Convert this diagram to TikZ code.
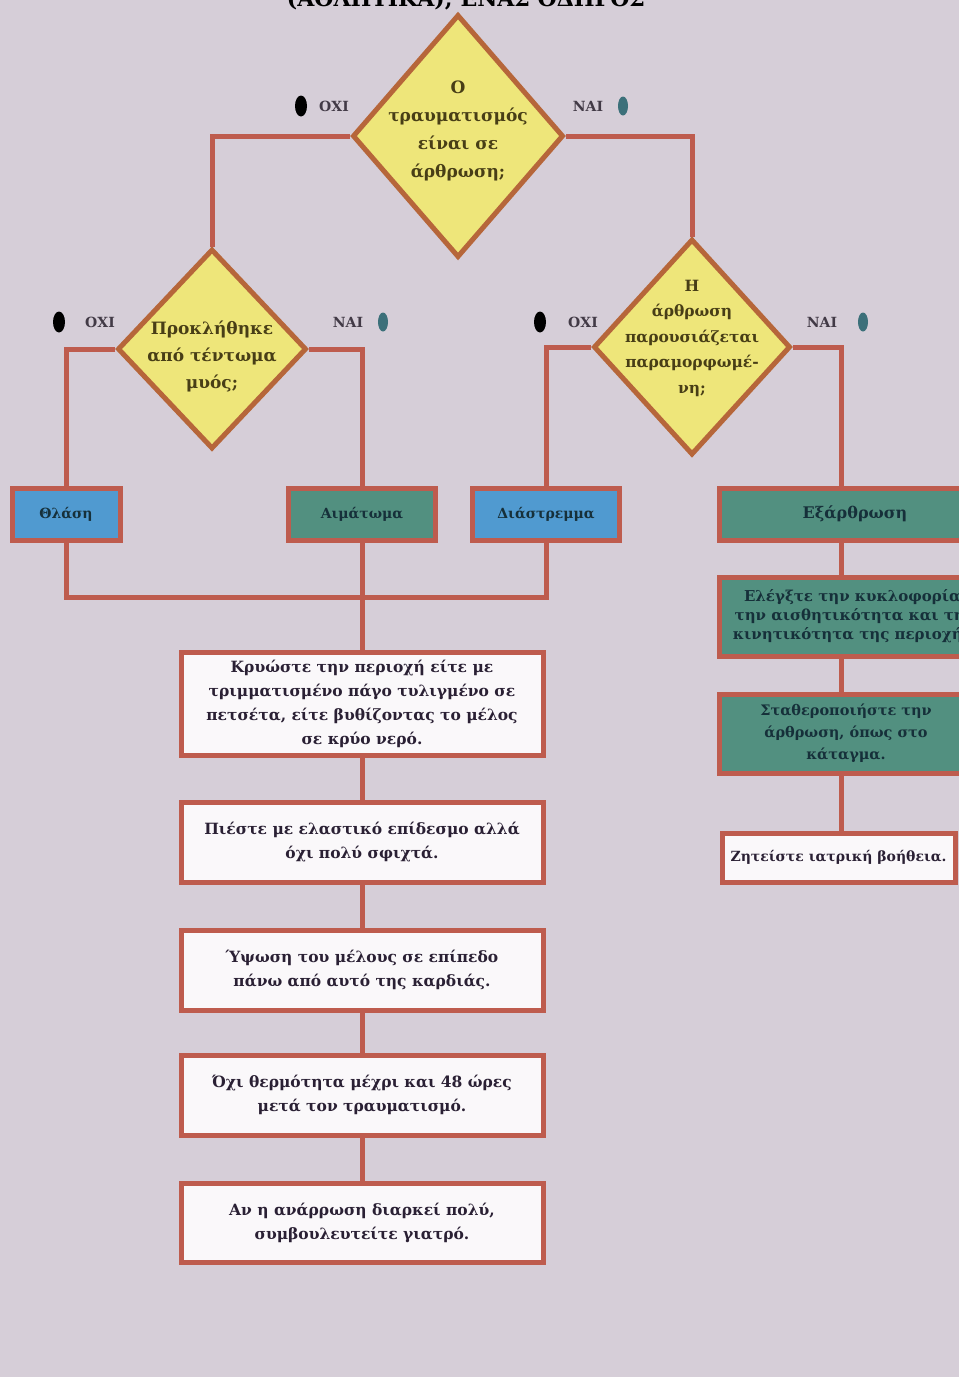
\documentclass[tikz,border=0pt]{standalone}
\usepackage{fontspec}
\setmainfont{DejaVu Serif}
\usetikzlibrary{shapes.geometric}
\definecolor{bgc}{RGB}{214,206,216}
\definecolor{linec}{RGB}{190,92,78}
\definecolor{decb}{RGB}{182,102,58}
\definecolor{decf}{RGB}{238,230,122}
\definecolor{dect}{RGB}{72,62,22}
\definecolor{bluef}{RGB}{80,154,208}
\definecolor{tealf}{RGB}{82,144,128}
\definecolor{boxt}{RGB}{22,48,58}
\definecolor{whitef}{RGB}{250,248,250}
\definecolor{whitet}{RGB}{42,32,52}
\definecolor{labt}{RGB}{66,58,70}
\definecolor{tealdot}{RGB}{60,112,122}
\tikzset{
  conn/.style={draw=linec, line width=5pt},
  dec/.style={shape=diamond, draw=decb, line width=5pt, fill=decf, inner sep=0pt},
  dectext/.style={align=center, text=dect, inner sep=0pt, font=\bfseries\fontsize{17}{28}\selectfont},
  bluebox/.style={draw=linec, line width=5pt, fill=bluef, inner sep=0pt, text=boxt,
    font=\bfseries\fontsize{14}{18}\selectfont},
  tealbox/.style={draw=linec, line width=5pt, fill=tealf, inner sep=0pt, text=boxt,
    align=center, font=\bfseries\fontsize{14}{18}\selectfont},
  whitebox/.style={draw=linec, line width=5pt, fill=whitef, inner sep=0pt, text=whitet,
    align=center, font=\bfseries\fontsize{15.5}{24}\selectfont},
  lab/.style={text=labt, font=\bfseries\fontsize{14}{16}\selectfont, inner sep=0pt},
  dotk/.style={shape=ellipse, fill=black, minimum width=12pt, minimum height=21pt, inner sep=0pt},
  dott/.style={shape=ellipse, fill=tealdot, minimum width=10pt, minimum height=19pt, inner sep=0pt}
}
\begin{document}
\begin{tikzpicture}[x=1pt,y=-1pt]
\useasboundingbox (0,0) rectangle (959,1377);
\clip (0,0) rectangle (959,1377);
\fill[bgc] (0,0) rectangle (959,1377);

% title (cut at top edge, as in the scan)
\node[anchor=base, font=\bfseries\fontsize{22}{24}\selectfont, text=black, inner sep=0pt] (title) at (466,6) {(ΑΘΛΗΤΙΚΑ); ΕΝΑΣ ΟΔΗΓΟΣ};

% decisions
\node[dec, minimum width=211pt, minimum height=243pt] (d1) at (458,136) {};
\node[dectext] (d1t) at (458,131) {Ο\\τραυματισμός\\είναι σε\\άρθρωση;};
\node[dec, minimum width=189pt, minimum height=200pt] (d2) at (212,349) {};
\node[dectext, font=\bfseries\fontsize{17}{27}\selectfont] (d2t) at (212,356) {Προκλήθηκε\\από τέντωμα\\μυός;};
\node[dec, minimum width=197pt, minimum height=216pt] (d3) at (692,347) {};
\node[dectext, font=\bfseries\fontsize{15.5}{25.5}\selectfont] (d3t) at (692,338) {Η\\άρθρωση\\παρουσιάζεται\\παραμορφωμέ-\\νη;};

% yes/no labels
\node[dotk] (o1d) at (301,106) {};
\node[lab] (o1) at (334,106) {ΟΧΙ};
\node[lab] (n1) at (588,106) {ΝΑΙ};
\node[dott] (n1d) at (623,106) {};
\node[dotk] (o2d) at (59,322) {};
\node[lab] (o2) at (100,322) {ΟΧΙ};
\node[lab] (n2) at (348,322) {ΝΑΙ};
\node[dott] (n2d) at (383,322) {};
\node[dotk] (o3d) at (540,322) {};
\node[lab] (o3) at (583,322) {ΟΧΙ};
\node[lab] (n3) at (822,322) {ΝΑΙ};
\node[dott] (n3d) at (863,322) {};

% diagnosis boxes
\node[bluebox, minimum width=108pt, minimum height=52pt] (b1) at (66,514) {Θλάση};
\node[tealbox, minimum width=147pt, minimum height=52pt] (b2) at (362,514) {Αιμάτωμα};
\node[bluebox, minimum width=147pt, minimum height=52pt] (b3) at (546,514) {Διάστρεμμα};
\node[tealbox, minimum width=272pt, minimum height=52pt, font=\bfseries\fontsize{16}{18}\selectfont] (b4) at (855,514) {Εξάρθρωση};

% left column
\node[whitebox, minimum width=362pt, minimum height=103pt] (w1) at (362,703.5) {Κρυώστε την περιοχή είτε με\\τριμματισμένο πάγο τυλιγμένο σε\\πετσέτα, είτε βυθίζοντας το μέλος\\σε κρύο νερό.};
\node[whitebox, minimum width=362pt, minimum height=80pt] (w2) at (362,842) {Πιέστε με ελαστικό επίδεσμο αλλά\\όχι πολύ σφιχτά.};
\node[whitebox, minimum width=362pt, minimum height=80pt] (w3) at (362,970) {Ύψωση του μέλους σε επίπεδο\\πάνω από αυτό της καρδιάς.};
\node[whitebox, minimum width=362pt, minimum height=80pt] (w4) at (362,1095) {Όχι θερμότητα μέχρι και 48 ώρες\\μετά τον τραυματισμό.};
\node[whitebox, minimum width=362pt, minimum height=79pt] (w5) at (362,1222.5) {Αν η ανάρρωση διαρκεί πολύ,\\συμβουλευτείτε γιατρό.};

% right column
\node[tealbox, minimum width=272pt, minimum height=79pt, font=\bfseries\fontsize{15}{19}\selectfont] (r1) at (855,616.5) {Ελέγξτε την κυκλοφορία,\\την αισθητικότητα και την\\κινητικότητα της περιοχής.};
\node[tealbox, minimum width=272pt, minimum height=79pt, font=\bfseries\fontsize{14.5}{22}\selectfont] (r2) at (855,733.5) {\hspace*{-18pt}Σταθεροποιήστε την\\\hspace*{-18pt}άρθρωση, όπως στο\\\hspace*{-18pt}κάταγμα.};
\node[whitebox, minimum width=233pt, minimum height=49pt, font=\bfseries\fontsize{14}{16}\selectfont] (r3) at (838.5,857.5) {Ζητείστε ιατρική βοήθεια.};

% connectors
\coordinate (m) at (362,597);
\coordinate (cx) at (841,0);
\draw[conn] (d1.west) -| (d2.north);
\draw[conn] (d1.east) -| (d3.north);
\draw[conn] (d2.west) -| (b1.north);
\draw[conn] (d2.east) -| (b2.north);
\draw[conn] (d3.west) -| (b3.north);
\draw[conn] (d3.east) -| (cx |- b4.north);
\draw[conn] (b1.south) |- (m);
\draw[conn] (b3.south) |- (m);
\draw[conn] (b2.south) -- (w1.north);
\draw[conn] (w1.south) -- (w2.north);
\draw[conn] (w2.south) -- (w3.north);
\draw[conn] (w3.south) -- (w4.north);
\draw[conn] (w4.south) -- (w5.north);
\draw[conn] (cx |- b4.south) -- (cx |- r1.north);
\draw[conn] (cx |- r1.south) -- (cx |- r2.north);
\draw[conn] (cx |- r2.south) -- (cx |- r3.north);
\end{tikzpicture}
\end{document}
